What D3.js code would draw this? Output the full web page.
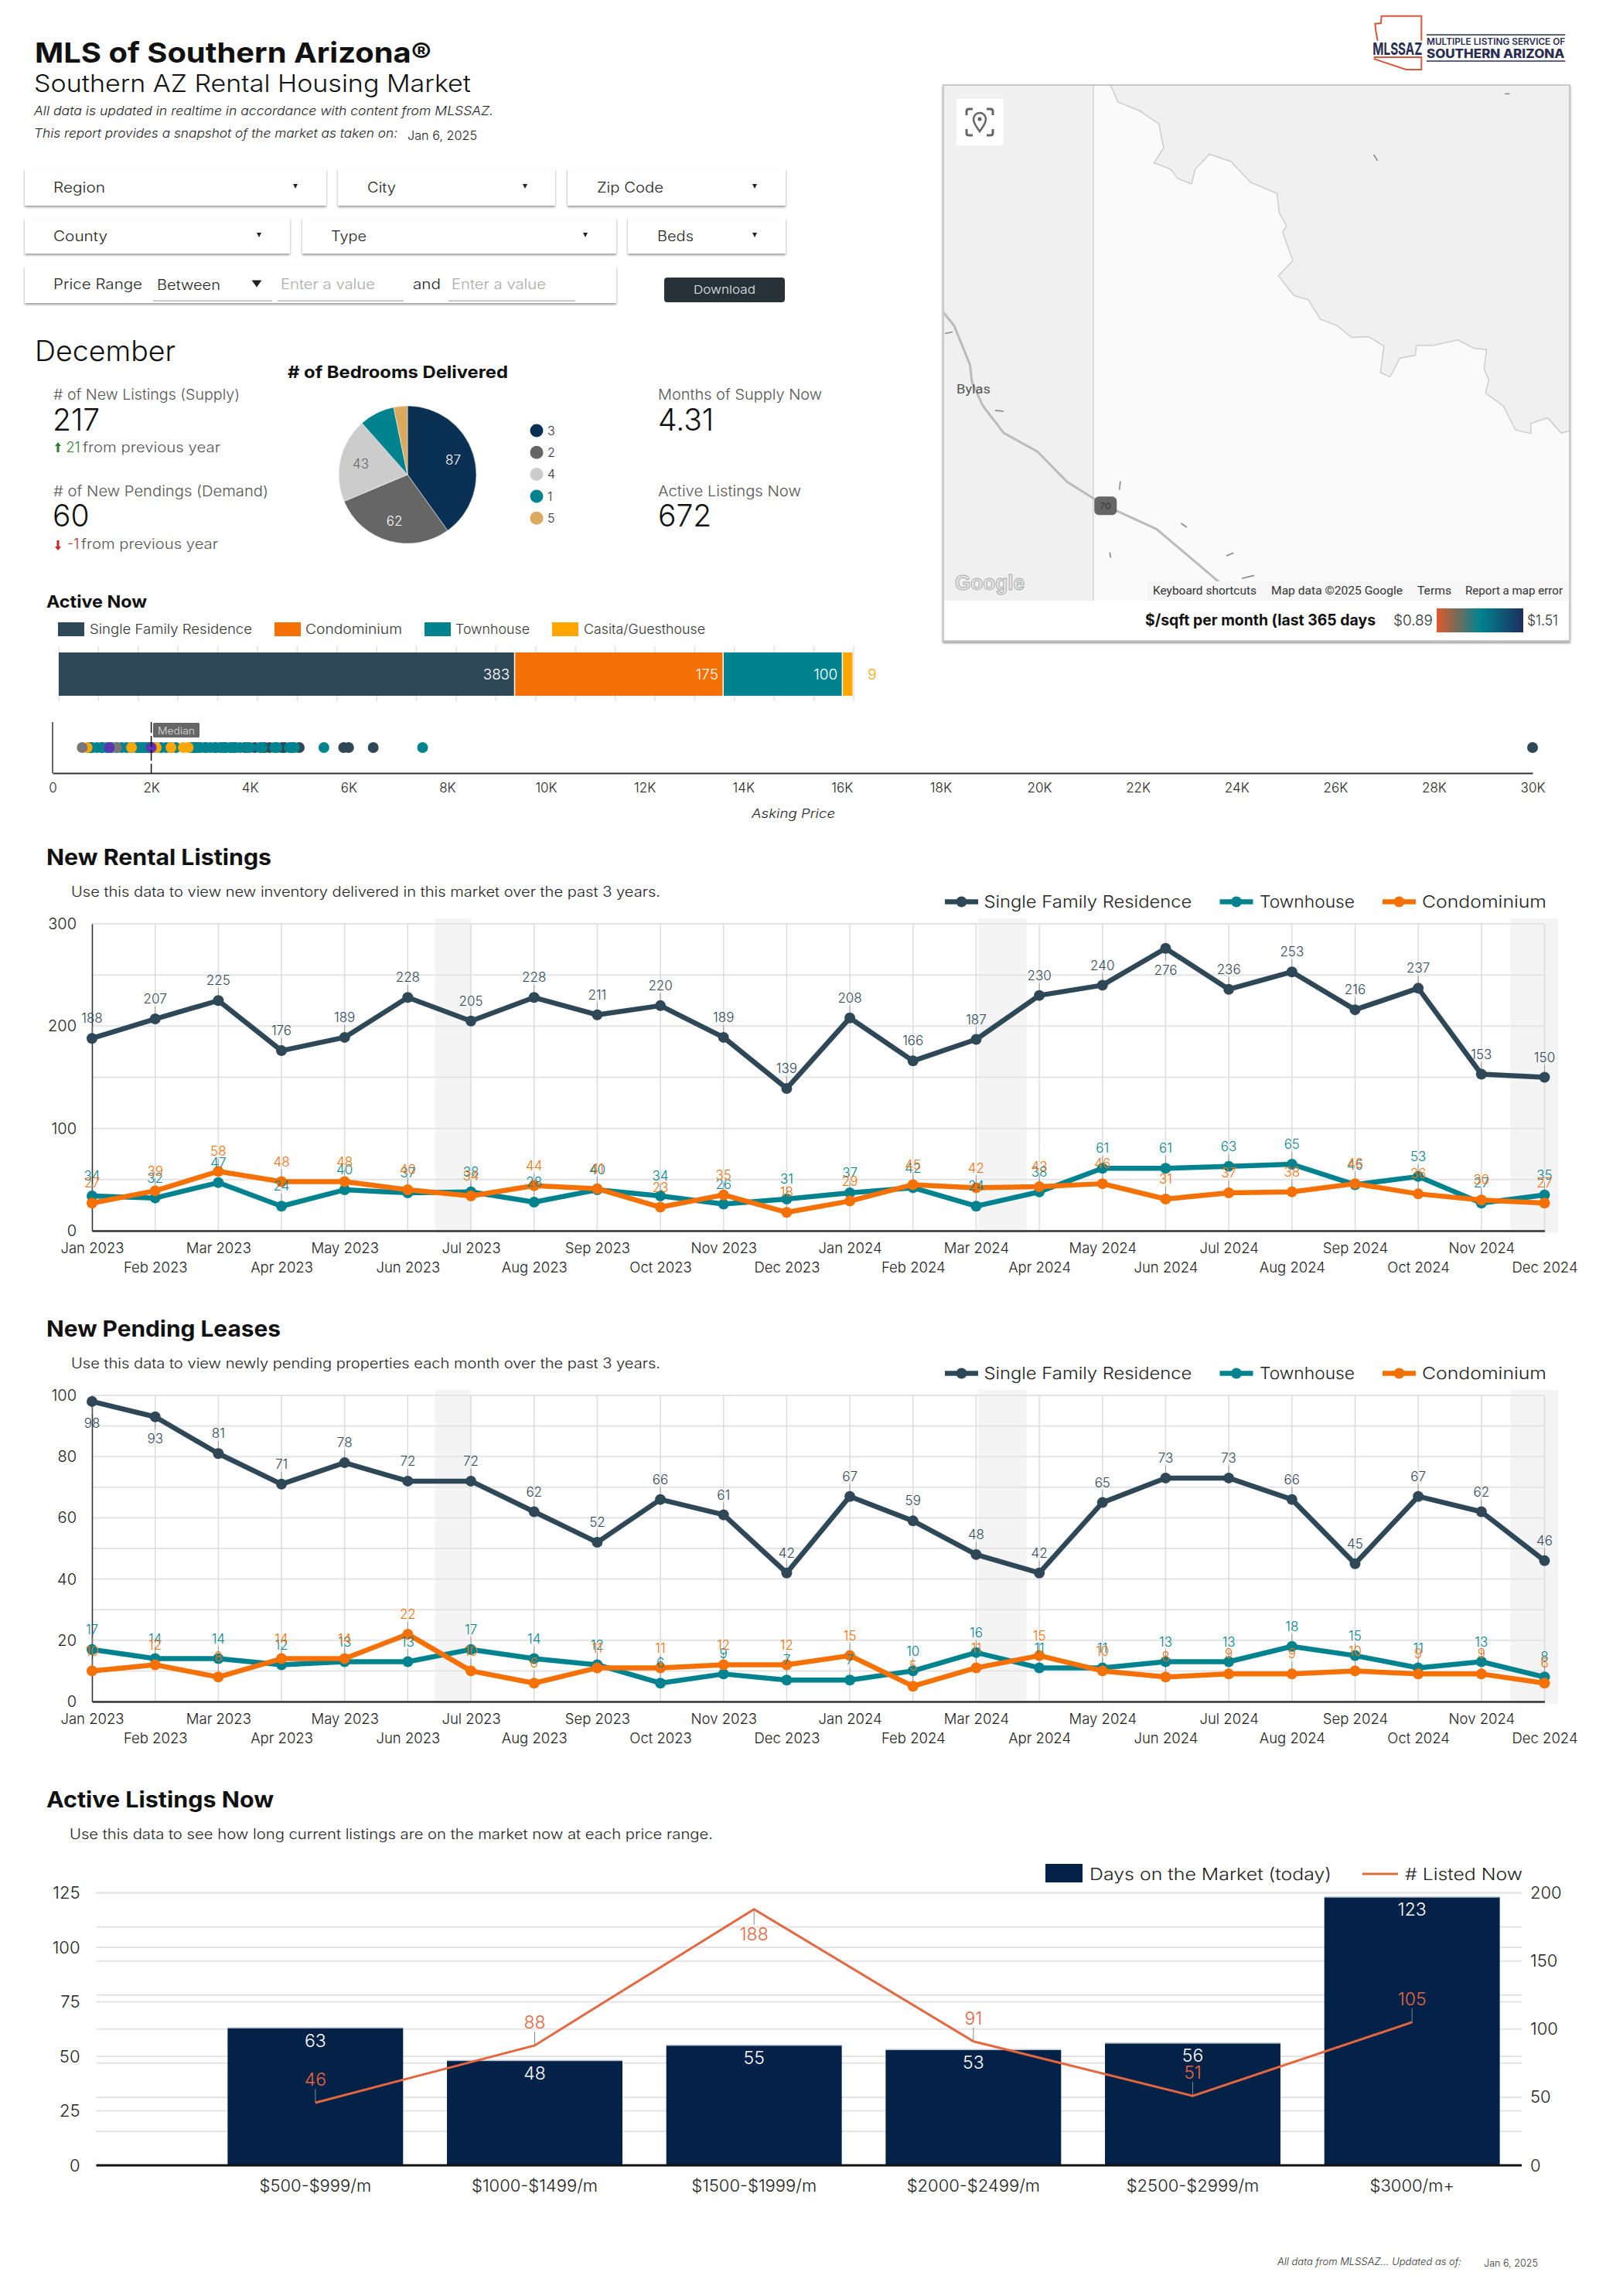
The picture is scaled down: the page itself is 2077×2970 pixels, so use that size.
<!DOCTYPE html>
<html><head><meta charset="utf-8">
<script src="https://cdn.jsdelivr.net/npm/d3@7"></script>
<style>
html,body{margin:0;padding:0;background:#fff}
svg{display:block}
text{font-family:Inter,"Open Sans",sans-serif}
</style></head><body><svg id="c" width="2077" height="2970"></svg>
<script>
// ---------- data ----------
const months=["Jan 2023","Feb 2023","Mar 2023","Apr 2023","May 2023","Jun 2023","Jul 2023","Aug 2023","Sep 2023","Oct 2023","Nov 2023","Dec 2023","Jan 2024","Feb 2024","Mar 2024","Apr 2024","May 2024","Jun 2024","Jul 2024","Aug 2024","Sep 2024","Oct 2024","Nov 2024","Dec 2024"];
const listSFR=[188,207,225,176,189,228,205,228,211,220,189,139,208,166,187,230,240,276,236,253,216,237,153,150];
const listTown=[34,32,47,24,40,37,38,28,40,34,26,31,37,42,24,38,61,61,63,65,45,53,27,35];
const listCondo=[27,39,58,48,48,40,34,44,41,23,35,18,29,45,42,43,46,31,37,38,46,36,30,27];
const pendSFR=[98,93,81,71,78,72,72,62,52,66,61,42,67,59,48,42,65,73,73,66,45,67,62,46];
const pendTown=[17,14,14,12,13,13,17,14,12,6,9,7,7,10,16,11,11,13,13,18,15,11,13,8];
const pendCondo=[10,12,8,14,14,22,10,6,11,11,12,12,15,5,11,15,10,8,9,9,10,9,9,6];
const listBelow=[17];
const pendBelow=[0,1];
const bands=[[5.43,6],[14.03,14.8],[22.46,23.22]];
const bedLabels=["3","2","4","1","5"];
const bedValues=[87,62,43,18,7];
const activeTypes=["Single Family Residence","Condominium","Townhouse","Casita/Guesthouse"];
const activeValues=[383,175,100,9];
const priceDark=[750,1000,1300,1600,2000,2400,2900,3100,3300,3500,3700,3900,4100,4300,4400,4650,4700,5000,5900,6000,6500,30000];
const priceTeal=[800,900,1000,1100,1200,1400,1500,1700,1750,1800,1850,1900,1950,2000,2100,2200,2300,2500,2800,2850,2950,3000,3100,3200,3300,3400,3450,3500,3600,3650,3700,3800,3950,4000,4200,4250,4500,4550,4800,4850,4900,5500,7500];
const priceOrange=[700,1600,2100,2400,2650,2750];
const priceGrey=[600,1300];
const pricePurple=[1150,2000];
const priceMedian=2000;
const priceTicks=d3.range(0,30001,2000);
const rentRanges=["$500-$999/m","$1000-$1499/m","$1500-$1999/m","$2000-$2499/m","$2500-$2999/m","$3000/m+"];
const daysOnMarket=[63,48,55,53,56,123];
const listedNow=[46,88,188,91,51,105];
const listedBelow=[2];
// decorative basemap outlines (picture coordinates of the map panel, not data)
const mapBoundary=[[540,197],[555,235],[600,255],[640,285],[650,340],[630,375],[665,390],[680,412],[708,423],[715,390],[745,355],[790,372],[830,420],[885,445],[890,490],[905,520],[897,535],[918,600],[888,635],[920,680],[950,690],[975,735],[1010,750],[1040,777],[1075,775],[1107,797],[1100,858],[1120,868],[1140,825],[1172,818],[1175,795],[1210,795],[1260,783],[1295,802],[1320,805],[1315,850],[1325,875],[1318,905],[1355,935],[1380,990],[1412,998],[1412,975],[1447,962],[1475,997],[1493,992]];
const mapRoad=[[192,718],[215,750],[248,840],[252,880],[275,935],[318,997],[388,1040],[450,1110],[505,1148],[550,1175],[635,1218],[770,1345],[790,1390]];
const mapSpecks=[[[1358,216],[1368,216]],[[1086,356],[1094,370]],[[300,945],[318,947]],[[196,768],[212,764]],[[560,1108],[558,1128]],[[686,1205],[698,1214]],[[538,1272],[540,1284]],[[780,1280],[795,1273]],[[812,1332],[838,1325]]];

// ---------- palette ----------
const DARK="#2f4858",TEAL="#00838f",ORANGE="#f57005",GOLD="#ffa600",NAVY="#042147",CORAL="#e4673f",INK="#1c1c1c",SOFT="#555";

const svg=d3.select("#c");
svg.append("rect").attr("width",2077).attr("height",2970).attr("fill","#fff");
const defs=svg.append("defs");
const sh=defs.append("filter").attr("id","sh").attr("x","-5%").attr("y","-20%").attr("width","110%").attr("height","150%");
sh.append("feDropShadow").attr("dx",0).attr("dy",2).attr("stdDeviation",1.6).attr("flood-color","#000").attr("flood-opacity",.4);

function txt(g,x,y,s,o={}){
  const t=g.append("text").attr("x",x).attr("y",y).attr("dy",".36em").text(s)
    .attr("font-size",o.size||18).attr("font-weight",o.weight||300).attr("fill",o.fill||INK)
    .attr("text-anchor",o.anchor||"start");
  if(o.italic)t.attr("font-style","italic");
  if(o.width)t.attr("textLength",o.width).attr("lengthAdjust","spacingAndGlyphs");
  return t;
}

// ---------- header ----------
const hd=svg.append("g");
txt(hd,45,68,"MLS of Southern Arizona®",{size:36,weight:700,fill:"#111",width:513});
txt(hd,44,108,"Southern AZ Rental Housing Market",{size:31,weight:300,fill:"#111",width:565});
txt(hd,44,143,"All data is updated in realtime in accordance with content from MLSSAZ.",{size:16,italic:true,width:594});
txt(hd,44,172,"This report provides a snapshot of the market as taken on:",{size:16,italic:true,width:470});
txt(hd,527,175,"Jan 6, 2025",{size:15.5,width:90});

// logo
const lg=svg.append("g").attr("transform","translate(1760,0) scale(.3333)");
const lineL=d3.line();
lg.append("path").attr("d",lineL([[65,158],[58,120],[55,92],[78,90],[80,62],[235,62],[235,158]])).attr("fill","none").attr("stroke","#d9573a").attr("stroke-width",6);
lg.append("path").attr("d",lineL([[50,222],[235,222],[235,270],[175,270],[50,228]])).attr("fill","none").attr("stroke","#d9573a").attr("stroke-width",6);
lg.append("path").attr("d",lineL([[255,135],[793,135]])).attr("stroke","#2a2d52").attr("stroke-width",4);
lg.append("path").attr("d",lineL([[255,237],[793,237]])).attr("stroke","#2a2d52").attr("stroke-width",4);
txt(lg,46,189,"MLSSAZ",{size:66,weight:700,fill:"#2a2d52",width:192});
txt(lg,255,163,"MULTIPLE LISTING SERVICE OF",{size:34,weight:600,fill:"#2a2d52",width:538});
txt(lg,255,209,"SOUTHERN ARIZONA",{size:46,weight:800,fill:"#2a2d52",width:535});

// ---------- filter controls ----------
const fl=svg.append("g");
function box(x0,x1,y0,y1){fl.append("rect").attr("x",x0).attr("y",y0).attr("width",x1-x0).attr("height",y1-y0).attr("fill","#fff").attr("filter","url(#sh)");}
const tri=(x,y,w=6,h=6,c="#222")=>fl.append("path").attr("d",`M${x-w/2},${y-h/2}h${w}l${-w/2},${h}z`).attr("fill",c);
[[32,422,218,266,"Region",69,382,67],[437,718,218,266,"City",475,679,37],[734,1016,218,266,"Zip Code",772,976,86],
 [32,375,282,328,"County",69,335,70],[391,797,282,328,"Type",428,757,46],[812,1016,282,328,"Beds",850,976,47]].forEach(d=>{
  box(d[0],d[1],d[2],d[3]);
  txt(fl,d[5],(d[2]+d[3])/2+1,d[4],{size:18,weight:300,fill:"#222",width:d[7]});
  tri(d[6],(d[2]+d[3])/2-1);
});
box(32,797,344,392);
txt(fl,69,368,"Price Range",{size:18,weight:300,fill:"#222",width:115});
txt(fl,203,369,"Between",{size:18,weight:300,fill:"#222",width:82});
tri(332,367,13,9);
txt(fl,363,368,"Enter a value",{size:18,weight:300,fill:"#aaa",width:122});
txt(fl,534,368,"and",{size:18,weight:300,fill:"#222",width:36});
txt(fl,584,368,"Enter a value",{size:18,weight:300,fill:"#aaa",width:122});
[[198,352],[359,522],[580,744]].forEach(d=>fl.append("rect").attr("x",d[0]).attr("y",388.5).attr("width",d[1]-d[0]).attr("height",1.5).attr("fill","#bbb"));
fl.append("rect").attr("x",859).attr("y",359).attr("width",156).attr("height",32).attr("rx",4).attr("fill","#263238");
txt(fl,937,375,"Download",{size:15,weight:300,fill:"#e0e6e8",anchor:"middle",width:80});

// ---------- map ----------
const mp=svg.append("g");
const mx=z=>1100+z/1.605, my=z=>z/1.78;
mp.append("rect").attr("x",1220).attr("y",110).attr("width",810).attr("height",719).attr("fill","#fff").attr("stroke","#c8c8c8").attr("stroke-width",2).attr("filter","url(#sh)");
defs.append("clipPath").attr("id","mapclip").append("rect").attr("x",1221).attr("y",111).attr("width",808).attr("height",666);
const mg=mp.append("g").attr("clip-path","url(#mapclip)");
mg.append("rect").attr("x",1221).attr("y",111).attr("width",808).attr("height",666).attr("fill","#fafafa");
const ml=d3.line().x(d=>mx(d[0])).y(d=>my(d[1]));
const upper=[...mapBoundary,[1500,992],[1500,190],[540,190]];
mg.append("path").attr("d",ml(upper)+"Z").attr("fill","#f0f0f0");
mg.append("path").attr("d",ml(mapBoundary)).attr("fill","none").attr("stroke","#cdcdcd").attr("stroke-width",1.5);
mg.append("rect").attr("x",1221).attr("y",111).attr("width",193).attr("height",666).attr("fill","#f0f0f0");
mg.append("rect").attr("x",1413).attr("y",111).attr("width",1.8).attr("height",666).attr("fill","#d9d9d9");
mg.append("path").attr("d",ml(mapRoad)).attr("fill","none").attr("stroke","#bbbbbb").attr("stroke-width",3);
mapSpecks.forEach(s=>mg.append("path").attr("d",ml(s)).attr("fill","none").attr("stroke","#888").attr("stroke-width",1.6));
mg.append("rect").attr("x",mx(506)).attr("y",my(1143)).attr("width",29).attr("height",24).attr("rx",6).attr("fill","#666");
txt(mg,mx(529),my(1165),"70",{size:12,weight:600,fill:"#444",anchor:"middle"});
txt(mg,1237,503,"Bylas",{size:17,weight:400,fill:"#555",width:44}).style("font-family","Roboto");
txt(mg,1568,782,"Fort Thomas",{size:17,weight:400,fill:"#777",width:105}).style("font-family","Roboto");
txt(mg,1235,753,"Google",{size:28,weight:600,fill:"#e6e6e6",width:90}).attr("stroke","#aaa").attr("stroke-width",1).style("font-family","'Liberation Sans'");
mg.append("rect").attr("x",1484).attr("y",752).attr("width",545).attr("height",25).attr("fill","#f6f6f6");
[[1491,"Keyboard shortcuts",134],[1644,"Map data ©2025 Google",170],[1833,"Terms",44],[1895,"Report a map error",126]].forEach(d=>
  txt(mg,d[0],764,d[1],{size:15,weight:400,fill:"#333",width:d[2]}).style("font-family","Roboto"));
// locate button
mp.append("rect").attr("x",1236).attr("y",127).attr("width",62).attr("height",62).attr("rx",3).attr("fill","#fff").attr("stroke","#eee");
const lb=mp.append("g").attr("transform","translate(1267,158)").attr("fill","none").attr("stroke","#666").attr("stroke-width",3);
lb.append("path").attr("d","M-17,-9v-5q0,-3 3,-3h5M9,-17h5q3,0 3,3v5M17,9v5q0,3 -3,3h-5M-9,17h-5q-3,0 -3,-3v-5");
lb.append("path").attr("d","M0,12C-4,6 -8,2 -8,-4A8,8 0 1 1 8,-4C8,2 4,6 0,12Z").attr("stroke-width",2.5);
lb.append("circle").attr("cy",-4).attr("r",2.5).attr("fill","#666").attr("stroke","none");
// map legend
txt(mp,1481,802,"$/sqft per month (last 365 days",{size:20,weight:700,fill:"#111",width:298});
txt(mp,1802,802,"$0.89",{size:19,width:51,fill:"#333"});
txt(mp,1975,802,"$1.51",{size:19,width:40,fill:"#333"});
const gr=defs.append("linearGradient").attr("id","gr");
[[0,"#e0592a"],[.5,"#00838f"],[1,"#1d2f5e"]].forEach(d=>gr.append("stop").attr("offset",d[0]).attr("stop-color",d[1]));
mp.append("rect").attr("x",1858).attr("y",787).attr("width",112).attr("height",31).attr("fill","url(#gr)");

// ---------- December KPIs ----------
const kp=svg.append("g");
txt(kp,45,454,"December",{size:37,weight:300,fill:"#111",width:182});
txt(kp,372,481,"# of Bedrooms Delivered",{size:22,weight:700,fill:"#111",width:285});
[[69,510,"# of New Listings (Supply)",241],[69,635,"# of New Pendings (Demand)",278],[851,510,"Months of Supply Now",212],[851,635,"Active Listings Now",185]].forEach(d=>
  txt(kp,d[0],d[1],d[2],{size:18.5,fill:"#555",width:d[3]}));
[[68,543,"217"],[68,667,"60"],[851,543,"4.31"],[851,667,"672"]].forEach(d=>txt(kp,d[0],d[1],d[2],{size:39,fill:"#111"}));
kp.append("path").attr("d","M75,572l4,5h-2.5v8h-3v-8h-2.5z").attr("fill","#2e7d32");
txt(kp,85.5,579,"21",{size:18,fill:"#2e7d32"});
txt(kp,107,579,"from previous year",{size:18,fill:"#555",width:178});
kp.append("path").attr("d","M75,712l4,-5h-2.5v-8h-3v8h-2.5z").attr("fill","#c62828");
txt(kp,87,704,"-1",{size:18,fill:"#c62828"});
txt(kp,105,704,"from previous year",{size:18,fill:"#555",width:177});

// pie
const bedColor=d3.scaleOrdinal(bedLabels,["#0a3054","#666666","#cccccc","#00838f","#dbaa5e"]);
const pieG=svg.append("g").attr("transform","translate(527,614)");
const pie=d3.pie().sort(null).value((d,i)=>bedValues[i]);
const arc=d3.arc().innerRadius(0).outerRadius(89);
const lab=d3.arc().innerRadius(62).outerRadius(62);
pieG.selectAll("path").data(pie(bedLabels)).join("path").attr("d",arc).attr("fill",d=>bedColor(d.data)).attr("stroke","#fff").attr("stroke-width",.5);
pie(bedLabels).forEach((d,i)=>{ if(bedValues[i]<30)return;
  const c=lab.centroid(d);
  txt(pieG,c[0],c[1],String(bedValues[i]),{size:17,fill:i==2?"#666":"#fff",anchor:"middle",weight:300});
});
bedLabels.forEach((b,i)=>{
  const y=557+i*28.3;
  svg.append("circle").attr("cx",694).attr("cy",y).attr("r",8.5).attr("fill",bedColor(b));
  txt(svg,708,y,b,{size:16,fill:"#333",weight:300});
});

// ---------- Active now ----------
const an=svg.append("g");
txt(an,60,778,"Active Now",{size:22,weight:700,fill:"#111",width:130});
const typeColor=d3.scaleOrdinal(activeTypes,[DARK,ORANGE,TEAL,GOLD]);
[[75,116,210],[355,395,125],[549,589,96],[714,755,157]].forEach((d,i)=>{
  an.append("rect").attr("x",d[0]).attr("y",805).attr("width",34).attr("height",18).attr("fill",typeColor(activeTypes[i]));
  txt(an,d[1],814,activeTypes[i],{size:17,fill:"#333",width:d[2]});
});
const stackX=d3.scaleLinear().domain([0,d3.sum(activeValues)]).range([76,1104]);
const stackTicks=d3.range(0,21).map(i=>i/20*d3.sum(activeValues));
an.append("g").selectAll("line").data(stackTicks).join("line").attr("x1",d=>stackX(d)).attr("x2",d=>stackX(d)).attr("y1",836).attr("y2",907).attr("stroke","#e0e0e0").attr("stroke-width",1.5);
let cum=0;
activeValues.forEach((v,i)=>{
  const x0=stackX(cum),x1=stackX(cum+v);cum+=v;
  an.append("rect").attr("x",x0).attr("y",844).attr("width",x1-x0-1.5).attr("height",56).attr("fill",typeColor(activeTypes[i]));
  if(i<3)txt(an,x1-7,872,String(v),{size:19,fill:"#fff",anchor:"end"});
  else txt(an,x1+24,872,String(v),{size:19,fill:GOLD,anchor:"middle"});
});

// strip plot
const px=d3.scaleLinear().domain([0,30000]).range([68,1982]);
const sg=svg.append("g");
sg.append("g").attr("transform","translate(0,1000)")
 .call(d3.axisBottom(px).tickValues(priceTicks).tickSize(0).tickPadding(13).tickFormat(d=>d?d/1000+"K":"0"))
 .call(g=>{g.select(".domain").attr("stroke","#333").attr("stroke-width",2);
   g.selectAll("text").attr("font-size",17).attr("font-weight",300).attr("fill",INK).attr("font-family","Inter");});
sg.append("line").attr("x1",68).attr("x2",68).attr("y1",934).attr("y2",1000).attr("stroke","#333").attr("stroke-width",1.5);
[[priceDark,DARK],[priceTeal,TEAL],[priceOrange,GOLD],[priceGrey,"#777"],[pricePurple,"#5e35b1"]].forEach(d=>
  sg.append("g").selectAll("circle").data(d[0]).join("circle").attr("cx",v=>px(v)).attr("cy",967).attr("r",7).attr("fill",d[1]));
sg.append("line").attr("x1",px(priceMedian)).attr("x2",px(priceMedian)).attr("y1",934).attr("y2",1000).attr("stroke","#111").attr("stroke-width",1.5).attr("stroke-dasharray","14 4");
sg.append("rect").attr("x",198).attr("y",935).attr("width",60).attr("height",19).attr("rx",1.5).attr("fill","#666");
txt(sg,228,945,"Median",{size:12.5,fill:"#ddd",anchor:"middle",width:48});
txt(sg,1026,1052,"Asking Price",{size:16.5,italic:true,anchor:"middle",width:108,fill:"#222"});

// ---------- line charts ----------
const x=d3.scaleLinear().domain([0,23]).range([119,1997.5]);
function lineChart(o){
  const g=svg.append("g");
  const y=d3.scaleLinear().domain([0,o.max]).range([o.y0,o.y1]);
  txt(g,60,o.y1-86,o.title,{size:28,weight:700,fill:"#111",width:291+(o.titleExtra||0)});
  txt(g,92,o.y1-41,o.sub,{size:18,fill:"#222",width:762});
  // legend
  [[1222,1272.4,269,"Single Family Residence",DARK],[1577.5,1629,123,"Townhouse",TEAL],[1788,1839,161,"Condominium",ORANGE]].forEach(d=>{
    const ly=o.y1-28.5;
    g.append("line").attr("x1",d[0]).attr("x2",d[0]+43).attr("y1",ly).attr("y2",ly).attr("stroke",d[4]).attr("stroke-width",6.5);
    g.append("circle").attr("cx",d[0]+21.5).attr("cy",ly).attr("r",7).attr("fill",d[4]);
    txt(g,d[1],ly,d[3],{size:22,fill:"#222",width:d[2]});
  });
  // bands
  bands.forEach(b=>g.append("rect").attr("x",x(b[0])).attr("width",x(b[1])-x(b[0])).attr("y",o.y1-7).attr("height",o.y0-o.y1+10).attr("fill","#f4f4f4"));
  // grid
  g.append("g").selectAll("line").data(d3.range(0,o.max+1,o.minor)).join("line").attr("x1",x(0)).attr("x2",x(23)).attr("y1",d=>y(d)).attr("y2",d=>y(d)).attr("stroke","#e4e4e4").attr("stroke-width",2);
  g.append("g").selectAll("line").data(d3.range(0,24)).join("line").attr("x1",d=>x(d)).attr("x2",d=>x(d)).attr("y1",o.y1).attr("y2",o.y0).attr("stroke","#dcdcdc").attr("stroke-width",1.5);
  // axes
  g.append("g").attr("transform",`translate(${x(0)},0)`).call(d3.axisLeft(y).tickValues(o.ticks).tickSize(0).tickPadding(20))
    .call(a=>{a.select(".domain").attr("stroke","#333").attr("stroke-width",1.5);
      a.selectAll("text").attr("font-size",20).attr("font-weight",300).attr("fill",INK).attr("font-family","Inter");});
  g.append("g").attr("transform",`translate(0,${o.y0})`).call(d3.axisBottom(x).tickValues(d3.range(0,24)).tickSize(0).tickFormat(i=>months[i]))
    .call(a=>{a.select(".domain").attr("stroke","#333").attr("stroke-width",2.5);
      a.selectAll("text").attr("font-size",18.5).attr("font-weight",300).attr("fill",INK).attr("font-family","Inter")
       .attr("y",(d,i)=>i%2?47:22).attr("dy",".36em");});
  const line=d3.line().x((d,i)=>x(i)).y(d=>y(d));
  const series=[[o.sfr,DARK,o.below],[o.town,TEAL,[]],[o.condo,ORANGE,[]]];
  // leaders
  series.forEach(s=>s[0].forEach((v,i)=>{
    const b=s[2].includes(i);
    g.append("line").attr("x1",x(i)).attr("x2",x(i)).attr("y1",y(v)).attr("y2",y(v)+(b?16:-16)).attr("stroke","#999").attr("stroke-width",1);
  }));
  series.forEach(s=>{
    g.append("path").attr("d",line(s[0])).attr("fill","none").attr("stroke",s[1]).attr("stroke-width",6.5).attr("stroke-linejoin","round");
    g.append("g").selectAll("circle").data(s[0]).join("circle").attr("cx",(d,i)=>x(i)).attr("cy",d=>y(d)).attr("r",7).attr("fill",s[1]);
  });
  series.forEach(s=>s[0].forEach((v,i)=>{
    const b=s[2].includes(i);
    txt(g,x(i),y(v)+(b?28:-26),String(v),{size:17,fill:s[1],anchor:"middle"});
  }));
}
lineChart({title:"New Rental Listings",sub:"Use this data to view new inventory delivered in this market over the past 3 years.",max:300,y0:1592,y1:1195,minor:50,ticks:[0,100,200,300],sfr:listSFR,town:listTown,condo:listCondo,below:listBelow});
lineChart({title:"New Pending Leases",sub:"Use this data to view newly pending properties each month over the past 3 years.",max:100,y0:2201,y1:1805,minor:10,ticks:[0,20,40,60,80,100],sfr:pendSFR,town:pendTown,condo:pendCondo,below:pendBelow,titleExtra:12});

// ---------- combo chart ----------
const cg=svg.append("g");
txt(cg,60,2328,"Active Listings Now",{size:28,weight:700,fill:"#111",width:294});
txt(cg,90,2373,"Use this data to see how long current listings are on the market now at each price range.",{size:18,fill:"#222",width:832});
const cx=d3.scaleBand().domain(rentRanges).range([266,1968]).paddingInner(.2).paddingOuter(.1);
const yL=d3.scaleLinear().domain([0,125]).range([2801,2448.5]);
const yR=d3.scaleLinear().domain([0,200]).range([2801,2448.5]);
cg.append("g").selectAll("line").data(d3.range(0,126,25).map(yL).concat(d3.range(0,201,25).map(yR))).join("line")
 .attr("x1",124.5).attr("x2",1968).attr("y1",d=>d).attr("y2",d=>d).attr("stroke","#e4e4e4").attr("stroke-width",2);
rentRanges.forEach((r,i)=>{
  cg.append("rect").attr("x",cx(r)).attr("y",yL(daysOnMarket[i])).attr("width",cx.bandwidth()).attr("height",2801-yL(daysOnMarket[i])).attr("fill",NAVY);
  cg.append("rect").attr("x",cx(r)).attr("y",yL(daysOnMarket[i])-1).attr("width",cx.bandwidth()).attr("height",1.5).attr("fill","#b5c0cf");
  txt(cg,cx(r)+cx.bandwidth()/2,yL(daysOnMarket[i])+16,String(daysOnMarket[i]),{size:23,fill:"#fff",anchor:"middle"});
});
const styleAxis=a=>{a.select(".domain").remove();a.selectAll("text").attr("font-size",22).attr("font-weight",300).attr("fill",INK).attr("font-family","Inter");};
cg.append("g").attr("transform","translate(124.5,0)").call(d3.axisLeft(yL).tickValues(d3.range(0,126,25)).tickSize(0).tickPadding(21)).call(styleAxis);
cg.append("g").attr("transform","translate(1968,0)").call(d3.axisRight(yR).tickValues(d3.range(0,201,50)).tickSize(0).tickPadding(11)).call(styleAxis);
cg.append("g").attr("transform","translate(0,2801)").call(d3.axisBottom(cx).tickSize(0).tickPadding(18)).call(a=>{
  a.selectAll("text").attr("font-size",22).attr("font-weight",300).attr("fill",INK).attr("font-family","Inter");
  a.select(".domain").remove();});
cg.append("line").attr("x1",124.5).attr("x2",1968).attr("y1",2801).attr("y2",2801).attr("stroke","#111").attr("stroke-width",3);
const cc=r=>cx(r)+cx.bandwidth()/2;
listedNow.forEach((v,i)=>{
  const b=listedBelow.includes(i);
  cg.append("line").attr("x1",cc(rentRanges[i])).attr("x2",cc(rentRanges[i])).attr("y1",yR(v)).attr("y2",yR(v)+(b?20:-18)).attr("stroke","#888").attr("stroke-width",1);
});
cg.append("path").attr("d",d3.line().x((d,i)=>cc(rentRanges[i])).y(d=>yR(d))(listedNow)).attr("fill","none").attr("stroke",CORAL).attr("stroke-width",3);
listedNow.forEach((v,i)=>{
  const b=listedBelow.includes(i);
  txt(cg,cc(rentRanges[i]),yR(v)+(b?32:-30),String(v),{size:23,fill:CORAL,anchor:"middle"});
});
cg.append("rect").attr("x",1352).attr("y",2411).attr("width",48).attr("height",24).attr("fill",NAVY);
txt(cg,1409,2424.5,"Days on the Market (today)",{size:22,fill:"#222",width:313});
cg.append("line").attr("x1",1762).attr("x2",1808).attr("y1",2424).attr("y2",2424).attr("stroke",CORAL).attr("stroke-width",3);
txt(cg,1817,2424.5,"# Listed Now",{size:22,fill:"#222",width:152});
txt(cg,1652,2925,"All data from MLSSAZ... Updated as of:",{size:12.5,italic:true,fill:"#333",width:238});
txt(cg,1919,2927,"Jan 6, 2025",{size:12.5,fill:"#333",width:70});
</script></body></html>
